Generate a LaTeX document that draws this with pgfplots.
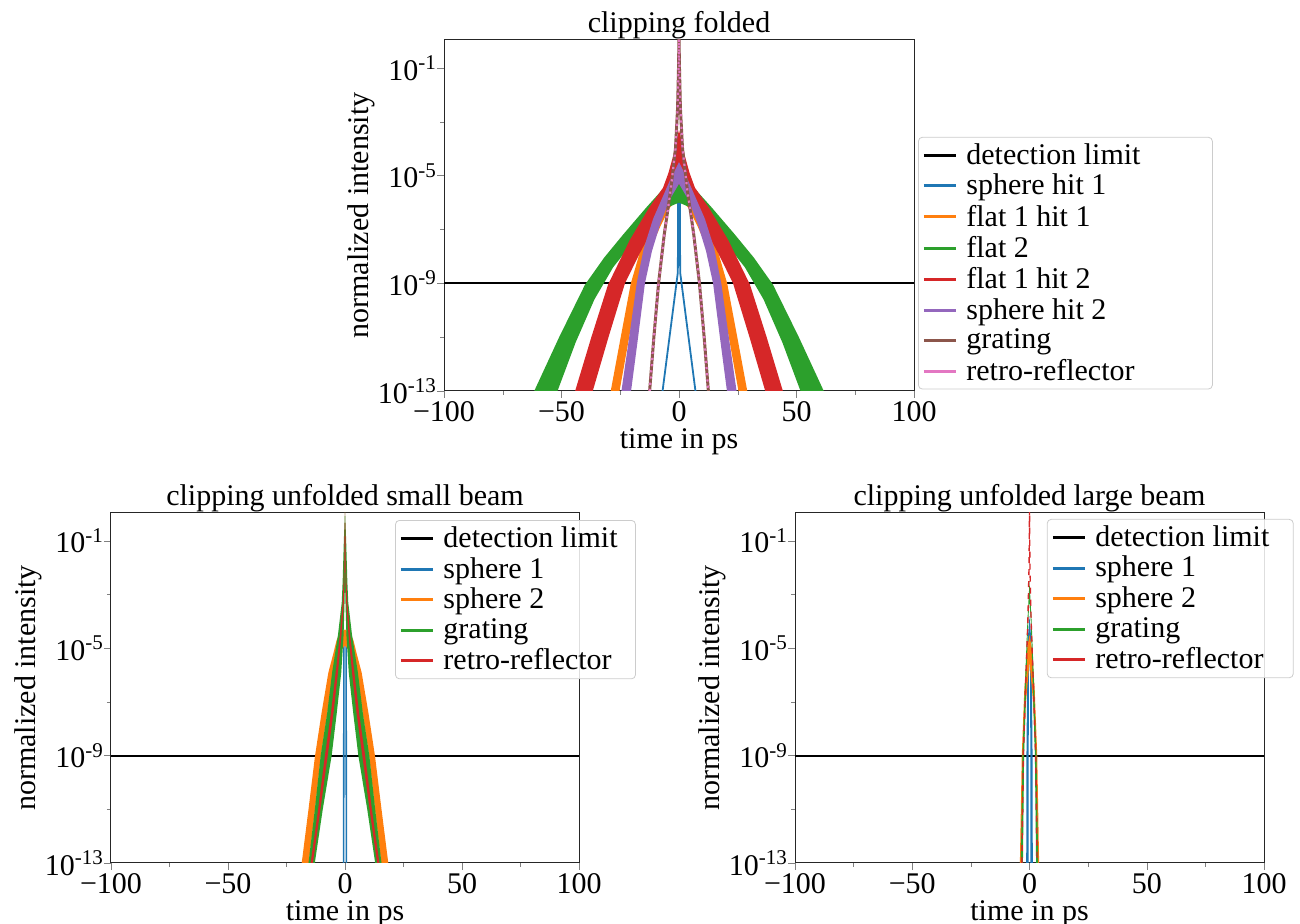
\documentclass[border=0pt]{standalone}
\usepackage{fontspec}
\setmainfont{Liberation Serif}
\usepackage{pgfplots}
\pgfplotsset{compat=1.18}
\definecolor{tblue}{HTML}{1F77B4}
\definecolor{torange}{HTML}{FF7F0E}
\definecolor{tgreen}{HTML}{2CA02C}
\definecolor{tred}{HTML}{D62728}
\definecolor{tpurple}{HTML}{9467BD}
\definecolor{tbrown}{HTML}{8C564B}
\definecolor{tpink}{HTML}{E377C2}
\pgfplotsset{
  legend image code/.code={\draw[#1, line width=1.5pt] (0pt,0pt) -- (16pt,0pt);},
  every axis/.append style={
    scale only axis,
    xmin=-100, xmax=100, ymin=1e-13, ymax=1.1,
    xtick={-100,-50,0,50,100}, xticklabels={−100,−50,0,50,100},
    minor xtick={-75,-25,25,75},
    ytick={1e-13,1e-9,1e-5,1e-1},
    yticklabels={10\textsuperscript{-13},10\textsuperscript{-9},10\textsuperscript{-5},10\textsuperscript{-1}},
    minor ytick={1e-11,1e-7,1e-3},
    tick align=outside, tick pos=left,
    major tick length=3.5pt, minor tick length=2pt,
    axis line style={line width=0.5pt, black!85},
    tick label style={font=\fontsize{15}{15}\selectfont},
    yticklabel style={xshift=3.5pt},
    xticklabel style={yshift=2pt},
    xlabel={time in ps}, ylabel={normalized intensity},
    xlabel style={font=\fontsize{15}{15}\selectfont, yshift=3pt},
    ylabel style={font=\fontsize{15}{15}\selectfont, yshift=-5.5pt},
    title style={font=\fontsize{15}{15}\selectfont, yshift=-9pt},
    legend style={draw=black!20, rounded corners=2pt, fill=white, fill opacity=0.85, text opacity=1,
      font=\fontsize{15}{15}\selectfont, inner xsep=2pt, inner ysep=1pt, row sep=-0.5pt,
      cells={anchor=west}, /tikz/every odd column/.append style={column sep=2.5pt}},
  },
}
\begin{document}
\begin{tikzpicture}
\path[use as bounding box] (0,0) rectangle (650pt,462pt);

% ---------------- top: clipping folded ----------------
\begin{semilogyaxis}[at={(222pt,266.5pt)}, anchor=south west, width=235pt, height=175.5pt,
  title={clipping folded},
  legend style={at={(1.0085,0.724)}, anchor=north west}]
\addlegendimage{black}\addlegendentry{\makebox[119pt][l]{detection limit}}
\addlegendimage{tblue}\addlegendentry{sphere hit 1}
\addlegendimage{torange}\addlegendentry{flat 1 hit 1}
\addlegendimage{tgreen}\addlegendentry{flat 2}
\addlegendimage{tred}\addlegendentry{flat 1 hit 2}
\addlegendimage{tpurple}\addlegendentry{sphere hit 2}
\addlegendimage{tbrown}\addlegendentry{grating}
\addlegendimage{tpink}\addlegendentry{retro-reflector}
\addplot[black, line width=1.1pt, forget plot] coordinates {(-100,1e-9) (100,1e-9)};
% sphere hit 1
\addplot[tblue, line width=0.9pt, forget plot] coordinates {(-7,1e-13) (-0.5,2.51e-9) (-0.3,1.585e-5) (0.3,1.585e-5) (0.5,2.51e-9) (7,1e-13)};
% flat 1 hit 1
\addplot[draw=none, fill=torange, forget plot] coordinates {(-29.05,1e-13) (-24.8,1e-11) (-20.5,1e-9) (-16.5,1.585e-8) (-11,2e-7) (-6,1.26e-6) (0,6.31e-6)
 (6,1.26e-6) (11,2e-7) (16.5,1.585e-8) (20.5,1e-9) (24.8,1e-11) (29.05,1e-13)
 (25.3,1e-13) (21.2,1e-11) (17,1e-9) (13,1.26e-8) (8,1.26e-7) (4,6.31e-7) (0,1.585e-6)
 (-4,6.31e-7) (-8,1.26e-7) (-13,1.26e-8) (-17,1e-9) (-21.2,1e-11) (-25.3,1e-13)};
% flat 2
\addplot[draw=none, fill=tgreen, forget plot] coordinates {(-61.6,1e-13) (-51,1e-11) (-40,8.91e-10) (-31.8,9.12e-9) (-23.7,6.6e-8) (-13.9,6.6e-7) (-7.4,2.82e-6) (-4,5.01e-6) (0,7.94e-6)
 (4,5.01e-6) (7.4,2.82e-6) (13.9,6.6e-7) (23.7,6.6e-8) (31.8,9.12e-9) (40,8.91e-10) (51,1e-11) (61.6,1e-13)
 (51.7,1e-13) (44,6.31e-12) (36,2.51e-10) (28,3.98e-9) (18,5.01e-8) (8,5.01e-7) (0,1e-6)
 (-8,5.01e-7) (-18,5.01e-8) (-28,3.98e-9) (-36,2.51e-10) (-44,6.31e-12) (-51.7,1e-13)};
% flat 1 hit 2
\addplot[draw=none, fill=tred, forget plot] coordinates {(-44.2,1e-13) (-37.3,1e-11) (-30.2,8.91e-10) (-21,3.98e-8) (-12.8,6.31e-7) (-6.8,3.55e-6) (-4.5,1.26e-5) (-2.6,5.01e-5) (-1.1,2e-4) (0,5.01e-4)
 (1.1,2e-4) (2.6,5.01e-5) (4.5,1.26e-5) (6.8,3.55e-6) (12.8,6.31e-7) (21,3.98e-8) (30.2,8.91e-10) (37.3,1e-11) (44.2,1e-13)
 (36.7,1e-13) (30,1e-11) (23,1e-9) (16.8,1.26e-8) (10,1.585e-7) (4,1.585e-6) (0,5.01e-6)
 (-4,1.585e-6) (-10,1.585e-7) (-16.8,1.26e-8) (-23,1e-9) (-30,1e-11) (-36.7,1e-13)};
% sphere hit 2
\addplot[draw=none, fill=tpurple, forget plot] coordinates {(-24.5,1e-13) (-21.2,1e-11) (-18,1e-9) (-15,2e-8) (-11,2.51e-7) (-7,1.585e-6) (-3.5,7.94e-6) (0,3.16e-5)
 (3.5,7.94e-6) (7,1.585e-6) (11,2.51e-7) (15,2e-8) (18,1e-9) (21.2,1e-11) (24.5,1e-13)
 (20.4,1e-13) (17.4,1e-11) (14.5,1e-9) (11.5,1.585e-8) (8,1.585e-7) (4,1.26e-6) (0,5.01e-6)
 (-4,1.26e-6) (-8,1.585e-7) (-11.5,1.585e-8) (-14.5,1e-9) (-17.4,1e-11) (-20.4,1e-13)};
% grating
\addplot[tbrown, line width=1.5pt, forget plot] coordinates {(-12.5,1e-13) (-10.7,1e-11) (-8.7,1e-9) (-6.3,6.31e-8) (-3.5,3.16e-6) (-1.5,1e-4) (-0.6,3.16e-3) (-0.2,0.1) (0,1.5)
 (0.2,0.1) (0.6,3.16e-3) (1.5,1e-4) (3.5,3.16e-6) (6.3,6.31e-8) (8.7,1e-9) (10.7,1e-11) (12.5,1e-13)};
% retro-reflector
\addplot[tpink, line width=1.1pt, dotted, forget plot] coordinates {(-12.5,1e-13) (-10.7,1e-11) (-8.7,1e-9) (-6.3,6.31e-8) (-3.5,3.16e-6) (-1.5,1e-4) (-0.6,3.16e-3) (-0.2,0.1) (0,1.5)
 (0.2,0.1) (0.6,3.16e-3) (1.5,1e-4) (3.5,3.16e-6) (6.3,6.31e-8) (8.7,1e-9) (10.7,1e-11) (12.5,1e-13)};
\end{semilogyaxis}

% ---------------- bottom left: small beam ----------------
\begin{semilogyaxis}[at={(55.5pt,30.5pt)}, anchor=south west, width=234pt, height=175pt,
  title={clipping unfolded small beam},
  legend style={at={(0.607,0.98)}, anchor=north west}]
\addlegendimage{black}\addlegendentry{\makebox[92pt][l]{detection limit}}
\addlegendimage{tblue}\addlegendentry{sphere 1}
\addlegendimage{torange}\addlegendentry{sphere 2}
\addlegendimage{tgreen}\addlegendentry{grating}
\addlegendimage{tred}\addlegendentry{retro-reflector}
\addplot[black, line width=1.1pt, forget plot] coordinates {(-100,1e-9) (100,1e-9)};
\addplot[tblue, line width=0.8pt, forget plot] coordinates {(-0.6,1e-13) (-0.45,2.51e-5) (0.45,2.51e-5) (0.6,1e-13)};
\addplot[draw=none, fill=torange, forget plot] coordinates {(-18.5,1e-13) (-15.6,1e-11) (-12.8,1e-9) (-10,3.98e-8) (-7.1,1.26e-6) (-5,6.31e-6) (-3.6,2e-5) (-2,3.98e-5) (0,5.01e-5)
 (2,3.98e-5) (3.6,2e-5) (5,6.31e-6) (7.1,1.26e-6) (10,3.98e-8) (12.8,1e-9) (15.6,1e-11) (18.5,1e-13)
 (15.5,1e-13) (12.8,1e-11) (10.3,1e-9) (7.5,3.98e-8) (5.2,1e-6) (3,6.31e-6) (0,1.26e-5)
 (-3,6.31e-6) (-5.2,1e-6) (-7.5,3.98e-8) (-10.3,1e-9) (-12.8,1e-11) (-15.5,1e-13)};
\addplot[draw=none, fill=tgreen, forget plot] coordinates {(-15.6,1e-13) (-12.9,1e-11) (-10.4,1e-9) (-7.6,3.98e-8) (-5.5,1.26e-6) (-3,3.16e-5) (-1.4,5.01e-4) (-1.0,3.16e-3) (-0.5,0.1) (0,1.5)
 (0.5,0.1) (1.0,3.16e-3) (1.4,5.01e-4) (3,3.16e-5) (5.5,1.26e-6) (7.6,3.98e-8) (10.4,1e-9) (12.9,1e-11) (15.6,1e-13)
 (12.9,1e-13) (9.5,1e-11) (5.7,1e-9) (3.5,3.98e-8) (1.6,1.26e-6) (0.6,3.16e-5) (0.2,5.01e-4) (0,3.16e-3)
 (-0.2,5.01e-4) (-0.6,3.16e-5) (-1.6,1.26e-6) (-3.5,3.98e-8) (-5.7,1e-9) (-9.5,1e-11) (-12.9,1e-13)};
\addplot[draw=none, fill=tred, forget plot] coordinates {(-14.7,1e-13) (-11.5,1e-11) (-8.6,1e-9) (-6,3.98e-8) (-4,1.26e-6) (-2.2,3.16e-5) (-1,5.01e-4) (-0.6,3.16e-3) (-0.25,0.1) (0,1.5)
 (0.25,0.1) (0.6,3.16e-3) (1,5.01e-4) (2.2,3.16e-5) (4,1.26e-6) (6,3.98e-8) (8.6,1e-9) (11.5,1e-11) (14.7,1e-13)
 (13.7,1e-13) (10.5,1e-11) (7.4,1e-9) (4.9,3.98e-8) (3,1.26e-6) (1.5,3.16e-5) (0.5,5.01e-4) (0.25,3.16e-3) (0.08,0.1) (0,0.5)
 (-0.08,0.1) (-0.25,3.16e-3) (-0.5,5.01e-4) (-1.5,3.16e-5) (-3,1.26e-6) (-4.9,3.98e-8) (-7.4,1e-9) (-10.5,1e-11) (-13.7,1e-13)};
\end{semilogyaxis}

% ---------------- bottom right: large beam ----------------
\begin{semilogyaxis}[at={(397.5pt,30.5pt)}, anchor=south west, width=234.5pt, height=175pt,
  title={clipping unfolded large beam},
  legend style={at={(0.537,0.983)}, anchor=north west}]
\addlegendimage{black}\addlegendentry{\makebox[95pt][l]{detection limit}}
\addlegendimage{tblue}\addlegendentry{sphere 1}
\addlegendimage{torange}\addlegendentry{sphere 2}
\addlegendimage{tgreen}\addlegendentry{grating}
\addlegendimage{tred}\addlegendentry{retro-reflector}
\addplot[black, line width=1.1pt, forget plot] coordinates {(-100,1e-9) (100,1e-9)};
\addplot[draw=none, fill=tblue, forget plot] coordinates {(-1.4,1e-13) (-1.3,1e-9) (-1.0,1e-6) (-0.6,3.16e-5) (0,1.585e-4)
 (0.6,3.16e-5) (1.0,1e-6) (1.3,1e-9) (1.4,1e-13)
 (0.4,1e-13) (0.35,1e-9) (0.25,1e-6) (0,1e-5) (-0.25,1e-6) (-0.35,1e-9) (-0.4,1e-13)};
\addplot[draw=none, fill=torange, forget plot] coordinates {(-4.1,1e-13) (-3.3,1e-9) (-2.2,3.16e-7) (-1,1e-5) (0,3.16e-5)
 (1,1e-5) (2.2,3.16e-7) (3.3,1e-9) (4.1,1e-13)
 (3.2,1e-13) (2.5,1e-9) (1.5,1e-7) (0,3.16e-6) (-1.5,1e-7) (-2.5,1e-9) (-3.2,1e-13)};
\addplot[draw=none, fill=tgreen, forget plot] coordinates {(-3.7,1e-13) (-3.0,1e-9) (-1.8,1e-6) (-0.9,1e-4) (0,3.16e-3)
 (0.9,1e-4) (1.8,1e-6) (3.0,1e-9) (3.7,1e-13)
 (2.8,1e-13) (2.3,1e-9) (1.3,1e-6) (0.55,1e-4) (0,6.31e-4) (-0.55,1e-4) (-1.3,1e-6) (-2.3,1e-9) (-2.8,1e-13)};
\addplot[tred, line width=0.7pt, dashed, forget plot] coordinates {(-3.25,1e-13) (-2.65,1e-9) (-1.5,1e-6) (-0.7,1e-4) (-0.2,1e-2) (0,1.5)
 (0.2,1e-2) (0.7,1e-4) (1.5,1e-6) (2.65,1e-9) (3.25,1e-13)};
\end{semilogyaxis}
\end{tikzpicture}
\end{document}
